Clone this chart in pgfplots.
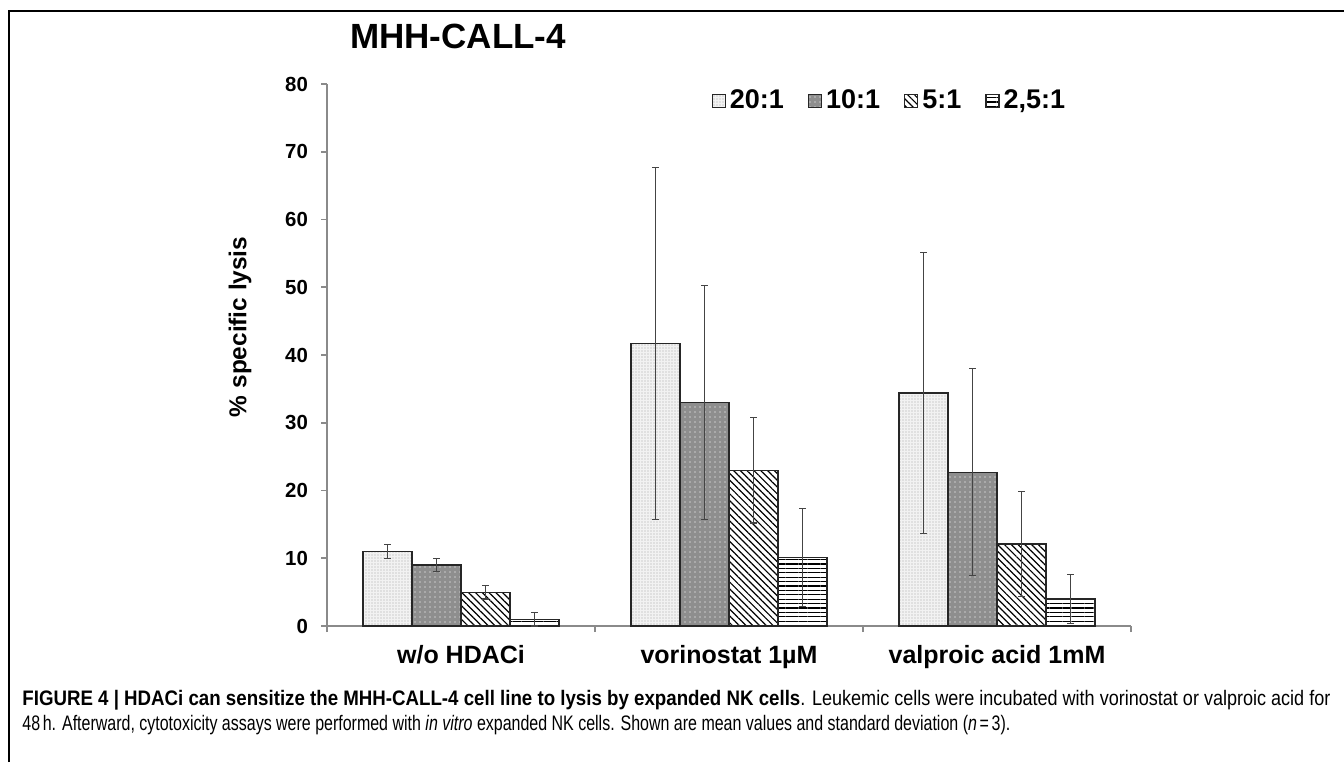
\documentclass[border=0pt]{standalone}
\usepackage{fontspec}
\setmainfont{Liberation Sans}
\usepackage{graphicx}
\usepackage{pgfplots}
\usepackage{pgfplotstable}
\pgfplotsset{compat=1.18}
\usetikzlibrary{patterns.meta}

\definecolor{lightfill}{HTML}{F2F2F2}
\definecolor{midfill}{HTML}{8E8E8E}
\definecolor{axisgray}{HTML}{8A8A8A}
\definecolor{errgray}{HTML}{444444}

% squeeze a piece of caption text to a given width, keeping its height
\newsavebox\capbox
\newcommand\fitto[2]{\sbox\capbox{#2}%
  \pgfmathsetmacro\capratio{#1/\the\wd\capbox}%
  \scalebox{\capratio}[1]{\usebox\capbox}}

% ratio groups: mean and SD per condition
\pgfplotstableread{
x    y20   e20   y10   e10   y5    e5   y25   e25
0.5  11.0  1.0   9.0   1.0   5.0   1.0  1.0   1.0
1.5  41.7  26.0  33.0  17.3  23.0  7.8  10.1  7.2
2.5  34.4  20.7  22.7  15.3  12.1  7.8  4.0   3.6
}\lysis

\begin{document}
\begin{tikzpicture}
  \useasboundingbox (0,0) rectangle (672pt,381pt);
  % frame of the figure
  \draw[line width=1pt] (4.5pt,0) -- (4.5pt,375.5pt) -- (672pt,375.5pt);

  \begin{axis}[
    at={(163.5pt,68pt)}, anchor=south west,
    scale only axis, width=402pt, height=271pt,
    ybar=0pt, bar width=24.5pt,
    xmin=0, xmax=3, ymin=0, ymax=80,
    axis lines*=left,
    axis line style={draw=axisgray, line width=0.8pt},
    ytick={0,10,...,80},
    xtick={0.5,1.5,2.5},
    xticklabels={w/o HDACi, vorinostat 1µM, valproic acid 1mM},
    minor xtick={0,1,2,3},
    tick align=outside,
    major tick length=3pt, minor tick length=3pt,
    every tick/.style={draw=axisgray, line width=0.8pt},
    x tick style={draw=none},
    minor x tick style={draw=axisgray, line width=0.8pt},
    /pgf/number format/assume math mode=true,
    yticklabel style={font=\bfseries\fontsize{10.2}{12}\selectfont, xshift=-3pt},
    xticklabel style={font=\bfseries\fontsize{12.5}{14}\selectfont, yshift=-3pt},
    ylabel={\% specific lysis},
    every axis y label/.style={at={(axis description cs:-0.108,0.552)}, rotate=90, anchor=center,
      font=\bfseries\fontsize{12.2}{14}\selectfont},
    title={MHH-CALL-4},
    every axis title shift=0pt,
    title style={font=\bfseries\fontsize{17.5}{20}\selectfont, at={(axis description cs:0.02,1.088)}, anchor=west},
    legend style={at={(axis description cs:0.478,0.969)}, anchor=west,
      draw=none, fill=none, inner sep=0pt,
      font=\bfseries\fontsize{13.5}{15}\selectfont,
      /tikz/every even column/.append style={column sep=10pt}},
    legend columns=4,
    legend image code/.code={\draw[#1] (0pt,-3.25pt) rectangle (6.5pt,3.25pt);},
    error bars/y dir=both, error bars/y explicit,
    error bars/error bar style={draw=errgray, line width=0.5pt},
    error bars/error mark options={rotate=90, mark size=1.75pt, draw=errgray, line width=0.6pt},
  ]
    \addplot[draw=black!85, line width=0.6pt, fill=lightfill,
      postaction={pattern={Dots[radius=0.3pt,distance=1.5pt]}, pattern color=black!35}]
      table[x=x, y=y20, y error=e20] {\lysis};
    \addplot[draw=black!85, line width=0.6pt, fill=midfill,
      postaction={pattern={Dots[radius=0.4pt,distance=2.5pt]}, pattern color=black!22}]
      table[x=x, y=y10, y error=e10] {\lysis};
    \addplot[draw=black!85, line width=0.6pt, fill=white,
      postaction={pattern={Lines[angle=-45,distance=2.4pt,line width=0.6pt]}, pattern color=black}]
      table[x=x, y=y5, y error=e5] {\lysis};
    \addplot[draw=black!85, line width=0.6pt, fill=white,
      postaction={pattern={Lines[angle=0,distance=2.2pt,line width=0.55pt]}, pattern color=black}]
      table[x=x, y=y25, y error=e25] {\lysis};
    \legend{20:1, 10:1, 5:1, {2,5:1}}
  \end{axis}

  \node[anchor=base west, inner sep=0pt, font=\fontsize{10.5}{12}\selectfont] at (11pt,28.5pt)
    {\fitto{389pt}{\textbf{FIGURE 4 | HDACi can sensitize the MHH-CALL-4 cell line to lysis by expanded NK cells}}\fitto{265pt}{. Leukemic cells were incubated with vorinostat or valproic acid for}};
  \node[anchor=base west, inner sep=0pt, font=\fontsize{10.5}{12}\selectfont] at (11pt,16pt)
    {\fitto{494pt}{48\,h. Afterward, cytotoxicity assays were performed with \textit{in vitro} expanded NK cells. Shown are mean values and standard deviation (\textit{n}\,=\,3).}};
\end{tikzpicture}
\end{document}
